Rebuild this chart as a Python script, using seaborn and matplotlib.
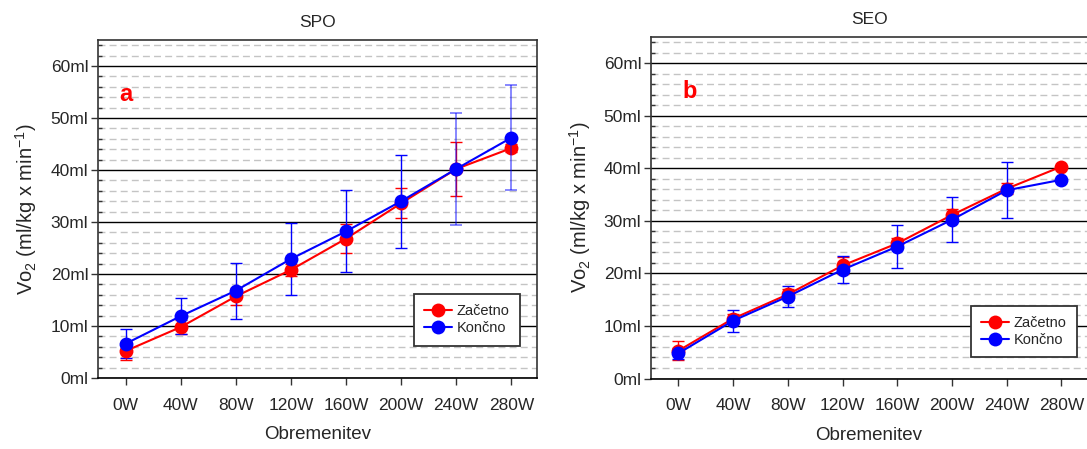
import numpy as np
import pandas as pd
import matplotlib
matplotlib.use('Agg')
import matplotlib.pyplot as plt
from matplotlib.ticker import MultipleLocator, FuncFormatter
import seaborn as sns

# --- data ---
loads = ['0W', '40W', '80W', '120W', '160W', '200W', '240W', '280W']

spo_start = [5.2, 9.8, 15.7, 20.8, 26.8, 33.6, 40.2, 44.2]
spo_start_sd = [1.8, 1.4, 1.6, 1.2, 2.8, 2.85, 5.2, 0.8]
spo_end = [6.6, 11.9, 16.8, 22.9, 28.2, 34.0, 40.2, 46.2]
spo_end_sd = [2.8, 3.4, 5.4, 6.9, 7.9, 8.9, 10.8, 10.1]

seo_start = [5.3, 11.4, 16.0, 21.5, 25.7, 31.1, 36.1, 40.3]
seo_start_sd = [1.75, 0.8, 1.0, 1.7, 1.0, 1.1, 1.0, 0.0]
seo_end = [4.8, 11.0, 15.6, 20.7, 25.1, 30.2, 35.8, 37.8]
seo_end_sd = [1.0, 2.1, 1.95, 2.6, 4.05, 4.3, 5.35, 0.0]

labels = ['Začetno', 'Končno']
colors = {'Začetno': 'red', 'Končno': 'blue'}

sns.set_theme(style='white')
plt.rcParams['font.family'] = ['Liberation Sans', 'DejaVu Sans']
plt.rcParams['mathtext.default'] = 'regular'

fig = plt.figure(figsize=(10.87, 4.49), dpi=100)
ax1 = fig.add_axes([0.0902, 0.158, 0.404, 0.753])
ax2 = fig.add_axes([0.599, 0.157, 0.401, 0.761])


def draw_panel(ax, title, letter, letter_x, start, start_sd, end, end_sd, faded, leg_anchor):
    pos = np.arange(len(loads))
    df = pd.DataFrame({
        'pos': np.concatenate([pos, pos]),
        'vo2': start + end,
        'meritev': [labels[0]] * len(loads) + [labels[1]] * len(loads),
    })

    # error bars first, below the markers
    ax.errorbar(pos, start, yerr=start_sd, fmt='none', ecolor='red',
                elinewidth=1, capsize=4, capthick=1, zorder=2)
    keep = [i for i in pos if i not in faded]
    ax.errorbar(pos[keep], np.array(end)[keep], yerr=np.array(end_sd)[keep],
                fmt='none', ecolor='blue', elinewidth=1, capsize=4, capthick=1, zorder=2)
    if faded:
        ax.errorbar(pos[faded], np.array(end)[faded], yerr=np.array(end_sd)[faded],
                    fmt='none', ecolor='blue', alpha=0.55, elinewidth=1.2,
                    capsize=4, capthick=1.2, zorder=4)

    sns.lineplot(data=df, x='pos', y='vo2', hue='meritev', hue_order=labels,
                 palette=colors, marker='o', markersize=10, markeredgewidth=0,
                 linewidth=1.5, ax=ax, zorder=3)

    ax.set_xlim(-0.5, 7.47)
    ax.set_ylim(0, 65)
    ax.set_xticks(pos)
    ax.set_xticklabels(loads)
    ax.yaxis.set_major_locator(MultipleLocator(10))
    ax.yaxis.set_minor_locator(MultipleLocator(2))
    ax.yaxis.set_major_formatter(FuncFormatter(lambda v, p: f'{int(v)}ml'))
    ax.set_axisbelow(True)
    ax.grid(which='major', axis='y', color='black', linewidth=1)
    ax.grid(which='minor', axis='y', color='#c4c4c4', linewidth=1, linestyle=(0, (5, 3)))
    ax.tick_params(axis='y', which='major', direction='out', length=5, width=1,
                   color='#333333', labelsize=12.5, pad=2, left=True)
    ax.tick_params(axis='y', which='minor', direction='in', length=3, width=1,
                   color='#333333', left=True)
    ax.tick_params(axis='x', which='major', direction='out', length=5, width=1,
                   color='#333333', labelsize=12.5, pad=9, bottom=True)
    for side in ['left', 'bottom', 'top', 'right']:
        ax.spines[side].set_color('#333333')
        ax.spines[side].set_linewidth(1.2)
    ax.spines['bottom'].set_color('black')

    ax.set_title(title, fontsize=12.5, pad=9)
    ax.set_xlabel('Obremenitev', fontsize=13.5, labelpad=10)
    ax.set_ylabel(r'Vo$_2$ (ml/kg x min$^{-1}$)', fontsize=14.5, labelpad=8)
    ax.text(letter_x, 54.6, letter, color='red', fontsize=17, fontweight='bold',
            ha='center', va='center')

    handles, lbls = ax.get_legend_handles_labels()
    leg = ax.legend(handles, lbls, loc='lower right', bbox_to_anchor=leg_anchor,
                    fontsize=10.5, frameon=True, fancybox=False, shadow=False,
                    handlelength=1.9, borderpad=0.7, labelspacing=0.2,
                    handletextpad=0.35, borderaxespad=0, framealpha=1)
    leg.get_frame().set_edgecolor('#333333')
    leg.get_frame().set_linewidth(1.3)


draw_panel(ax1, 'SPO', 'a', 0.0, spo_start, spo_start_sd, spo_end, spo_end_sd,
           [6, 7], (0.961, 0.096))
draw_panel(ax2, 'SEO', 'b', 0.2, seo_start, seo_start_sd, seo_end, seo_end_sd,
           [], (0.977, 0.063))
ax2.spines['right'].set_visible(False)

fig.savefig('out.png', dpi=100)
